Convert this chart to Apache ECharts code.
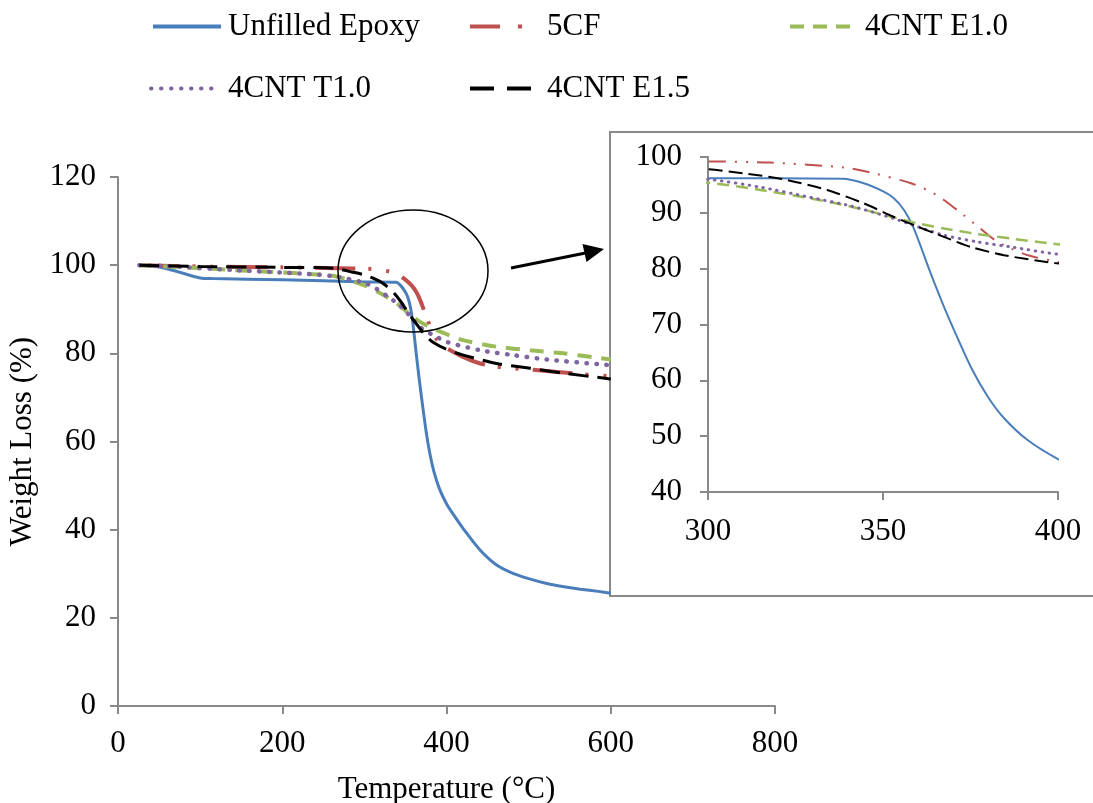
<!DOCTYPE html>
<html>
<head>
<meta charset="UTF-8">
<title>TGA</title>
<script src="https://cdn.jsdelivr.net/npm/echarts@6/dist/echarts.min.js"></script>
<style>html,body{margin:0;padding:0;background:#fff}</style>
</head>
<body>
<div id="main" style="width:1093px;height:803px"></div>
<script>
// [temperature (°C), weight (%)]
var unfilledEpoxy = [[26,100],[50,99.6],[75,98.4],[100,97.1],[115,96.95],[200,96.7],[300,96.2],[338.5,96.1],[344.5,95.3],[350.2,93.8],[353.1,92.6],[356,90.5],[358.8,87.2],[363.6,79.2],[367.4,73.2],[370.3,69],[375.1,62.4],[379.9,57.1],[384.6,53.2],[391.3,49.3],[400,45.9],[410,43],[420.5,40.2],[440.8,35.4],[461,32],[481,30.1],[500,28.9],[522,27.8],[545,27],[563,26.5],[585,26],[600,25.6]];
var cf5 = [[26,100],[100,99.7],[200,99.5],[300,99.2],[318,99],[339,98.1],[348,97],[358,95.3],[363.6,93.8],[367.4,92.3],[373,89.6],[377,87.6],[382,85.1],[386.5,83.6],[392,82.3],[400,81.2],[420,79.2],[441,77.7],[460,77],[481,76.6],[522,76],[563,75.3],[600,74.8]];
var cntE10 = [[26,100],[100,99.3],[150,98.8],[222,98.1],[262,97.6],[300,95.4],[315,94.1],[329,92.6],[341,91.1],[353,89.2],[360,88.1],[367.4,87.2],[377,86.2],[386.5,85.4],[398,84.5],[420,83],[461,81.5],[502,80.7],[542,80],[579,79.1],[600,78.6]];
var cntT10 = [[26,100],[59,99.8],[140,98.9],[222,98.1],[262,97.5],[300,96],[315,94.6],[329,92.8],[341,91.2],[353,89],[360,87.5],[367.4,86],[377,84.8],[386.5,83.9],[400,82.6],[441,80.7],[481,79.6],[522,78.6],[587,77.5],[600,77.3]];
var cntE15 = [[26,100],[100,99.7],[200,99.5],[262,99.3],[286,98.4],[300,97.8],[310,97.1],[321.6,96],[334,94.1],[344.5,91.7],[353,89.3],[360,87.5],[367.4,85.7],[375,83.9],[384.6,82.4],[399,81],[420.5,79.6],[461,77.7],[502,76.6],[542,75.5],[595,74.3],[600,74.2]];

var seriesNames = ['Unfilled Epoxy','5CF','4CNT E1.0','4CNT T1.0','4CNT E1.5'];
var seriesData = [unfilledEpoxy, cf5, cntE10, cntT10, cntE15];
var colors = ['#4a7ebb','#c0504d','#9bbb59','#8064a2','#000000'];

var mainX = [0, 800, 200];   // min, max, interval
var mainY = [0, 120, 20];
var insetX = [300, 400, 50];
var insetY = [40, 100, 10];

var FONT = '"Liberation Serif", "Times New Roman", serif';
var AXIS_GRAY = '#898989';

var mainStyles = [
  {width:3, type:'solid'},
  {width:4, type:[40,13,3,15,3,14]},
  {width:4, type:[14,10]},
  {width:4.5, type:[0.5,9.5], cap:'round'},
  {width:3, type:[20,9]}
];
var insetStyles = [
  {width:2, type:'solid'},
  {width:2, type:[17,9,2,9,2,9]},
  {width:2.5, type:[12,7]},
  {width:3, type:[0.5,6.5], cap:'round'},
  {width:2, type:[14,6]}
];

var myChart = echarts.init(document.getElementById('main'));

function axis(range, grid, extra) {
  var a = {
    type:'value', gridIndex:grid, min:range[0], max:range[1], interval:range[2],
    axisLine:{show:true, onZero:false, lineStyle:{color:AXIS_GRAY, width:2}},
    axisTick:{show:true, length:8, lineStyle:{color:AXIS_GRAY, width:2}},
    axisLabel:{color:'#000', fontSize:31, fontFamily:FONT},
    splitLine:{show:false}
  };
  for (var k in extra) a[k] = extra[k];
  return a;
}

var series = [];
for (var i = 0; i < seriesData.length; i++) {
  var ms = mainStyles[i];
  series.push({
    name:seriesNames[i], type:'line', xAxisIndex:0, yAxisIndex:0, data:seriesData[i],
    showSymbol:false, symbol:'none', smooth:0.25, z:2,
    lineStyle:{color:colors[i], width:ms.width, type:ms.type, cap:ms.cap || 'butt'},
    itemStyle:{color:colors[i]}
  });
}
for (var j = 0; j < seriesData.length; j++) {
  var is = insetStyles[j];
  series.push({
    name:seriesNames[j], type:'line', xAxisIndex:1, yAxisIndex:1, data:seriesData[j],
    showSymbol:false, symbol:'none', smooth:0.25, z:4,
    lineStyle:{color:colors[j], width:is.width, type:is.type, cap:is.cap || 'butt'},
    itemStyle:{color:colors[j]}
  });
}

function legendItem(name, left, top, width, pad, type) {
  return {
    data:[name], left:left, top:top, padding:0, itemGap:0,
    itemWidth:width, itemHeight:14, selectedMode:false,
    textStyle:{fontSize:31, fontFamily:FONT, color:'#000', padding:[0,0,0,pad]},
    lineStyle:{type:type, width:4},
    itemStyle:{color:'rgba(0,0,0,0)', borderWidth:0, opacity:0}
  };
}

var option = {
  backgroundColor:'#fff',
  animation:false,
  legend:[
    legendItem('Unfilled Epoxy', 151, 11, 68, 2, 'solid'),
    legendItem('5CF', 468, 11, 54, 18, [30,18,4,100]),
    legendItem('4CNT E1.0', 788, 11, 67, 3, [14,9]),
    legendItem('4CNT T1.0', 149, 73, 67, 5, [0.5,9.5]),
    legendItem('4CNT E1.5', 468, 73, 61, 11, [24,13])
  ],
  grid:[
    {left:118, right:318, top:177, bottom:97, containLabel:false, outerBoundsMode:'none'},
    {left:708, right:35, top:157, bottom:311, containLabel:false, outerBoundsMode:'none'}
  ],
  xAxis:[
    axis(mainX, 0, {name:'Temperature (°C)', nameLocation:'middle', nameGap:68,
      nameTextStyle:{color:'#000', fontSize:31, fontFamily:FONT}}),
    axis(insetX, 1, {z:3})
  ],
  yAxis:[
    axis(mainY, 0, {name:'Weight Loss (%)', nameLocation:'middle', nameGap:74, nameRotate:90,
      nameTextStyle:{color:'#000', fontSize:31, fontFamily:FONT}}),
    axis(insetY, 1, {z:3})
  ],
  series:series,
  graphic:[
    {type:'rect', z:1, shape:{x:610, y:132, width:500, height:464},
      style:{fill:'#fff', stroke:AXIS_GRAY, lineWidth:2}},
    {type:'ellipse', z:5, shape:{cx:413, cy:271, rx:75, ry:61},
      style:{fill:'transparent', stroke:'#000', lineWidth:1.5}},
    {type:'line', z:5, shape:{x1:511, y1:268, x2:588, y2:252.5},
      style:{stroke:'#000', lineWidth:3}},
    {type:'polygon', z:5, shape:{points:[[604,249],[582.5,244],[586.5,262]]},
      style:{fill:'#000'}}
  ]
};
// axis label margins
option.xAxis[0].axisLabel.margin = 22;
option.yAxis[0].axisLabel.margin = 22;
option.xAxis[1].axisLabel.margin = 24;
option.yAxis[1].axisLabel.margin = 26;

myChart.setOption(option);
</script>
</body>
</html>
